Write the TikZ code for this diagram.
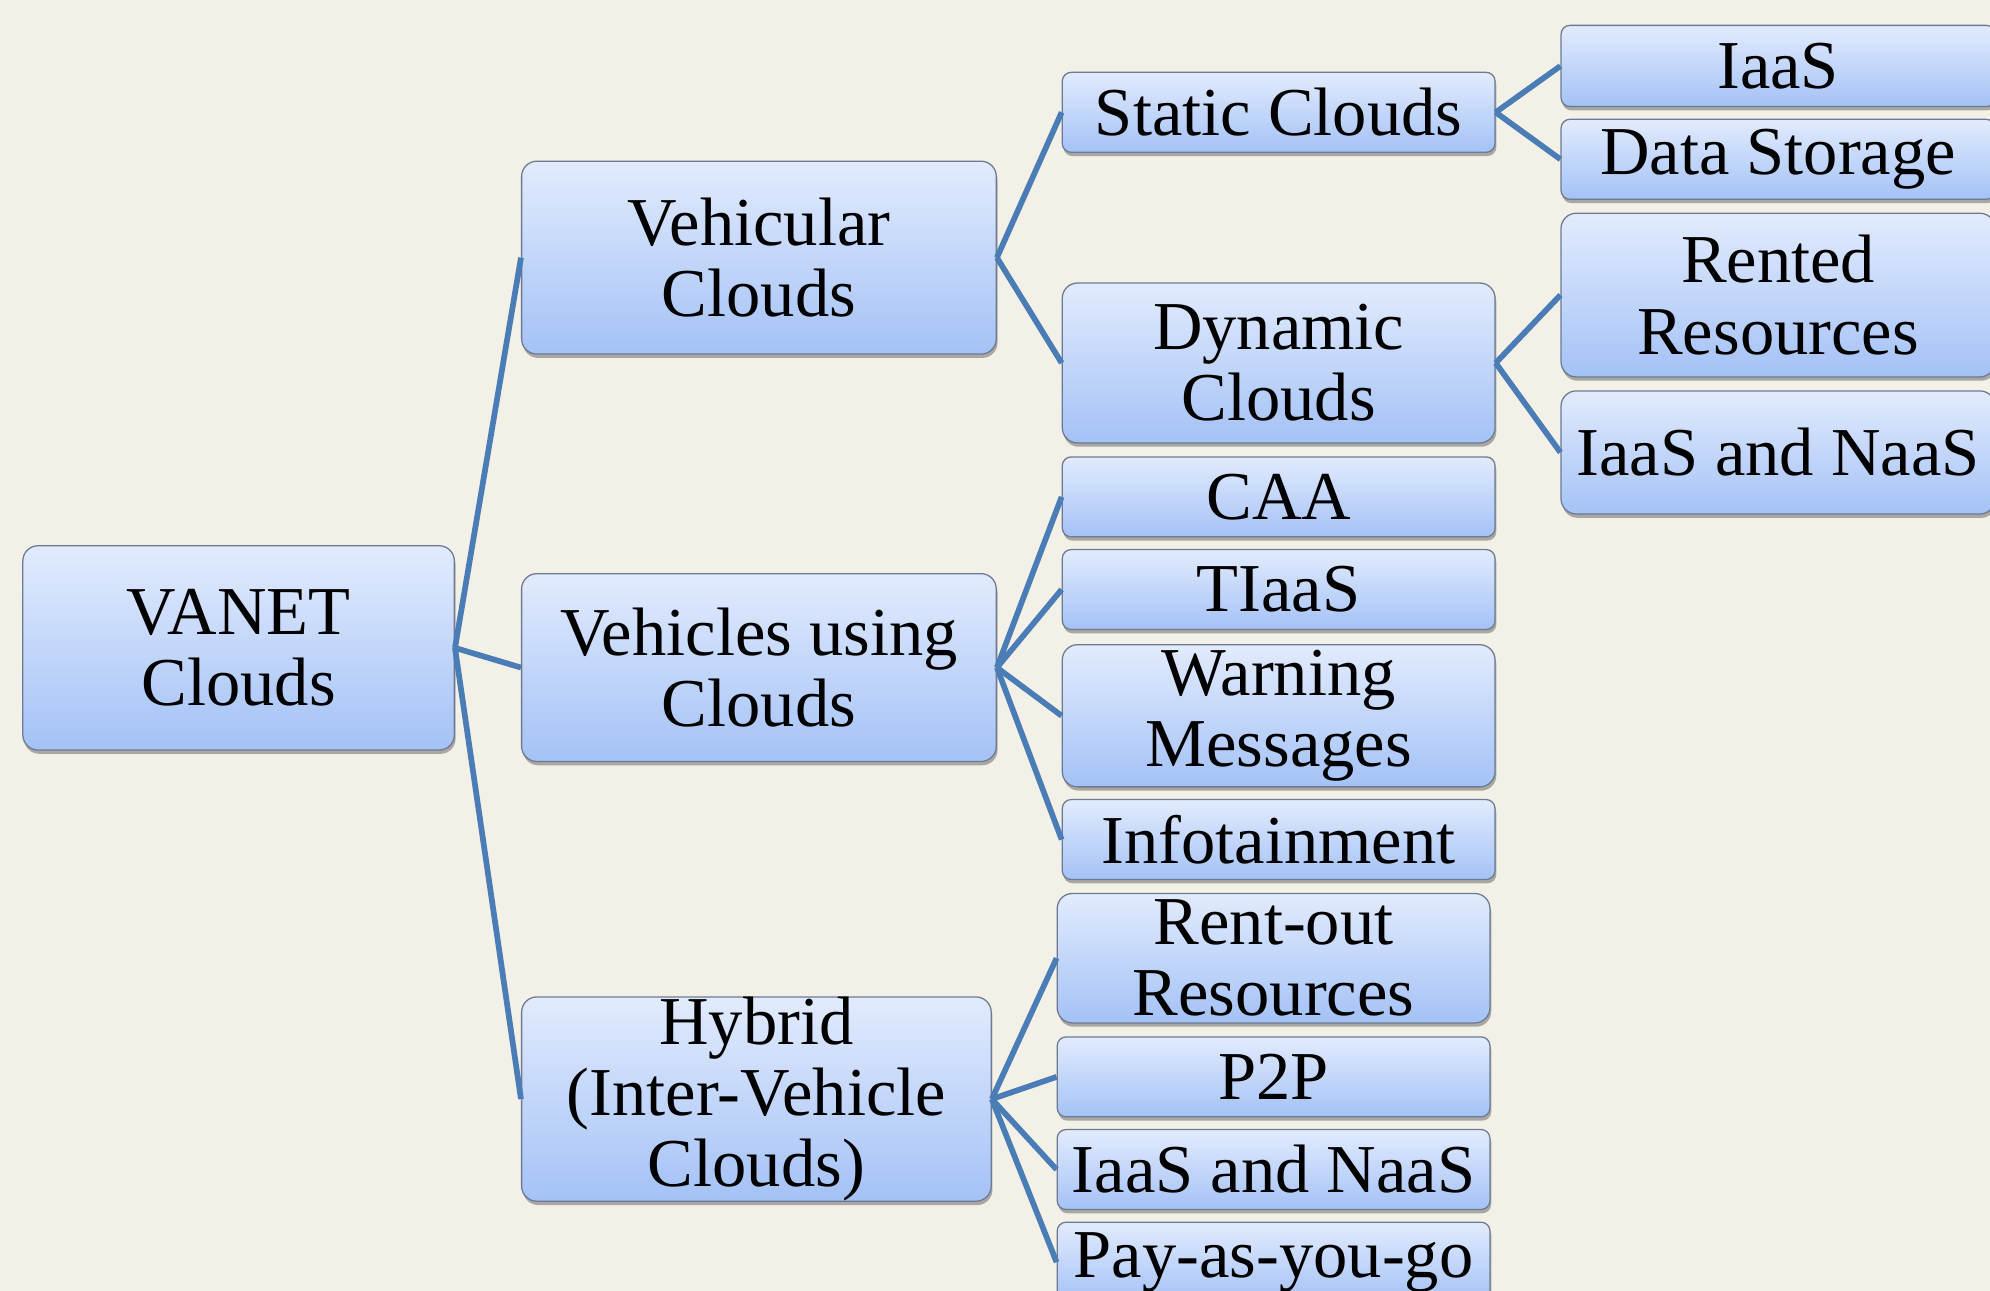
\documentclass[tikz,border=0pt]{standalone}
\usepackage{fontspec}
\setmainfont{Liberation Serif}
\usetikzlibrary{shadows}
\definecolor{bgcream}{HTML}{F3F0E7}
\definecolor{linkblue}{HTML}{4A7DB5}
\definecolor{boxtop}{HTML}{E2EBFD}
\definecolor{boxbot}{HTML}{A4C2F6}
\definecolor{boxline}{HTML}{6C7B93}
\tikzset{
  item/.style={draw=boxline, line width=1pt, top color=boxtop, bottom color=boxbot,
    rounded corners=7pt, inner sep=0pt, align=center,
    font=\fontsize{54}{56}\selectfont,
    drop shadow={shadow xshift=1pt, shadow yshift=-3pt, opacity=0.3, fill=black}},
  bigitem/.style={item, rounded corners=12pt},
  link/.style={draw=linkblue, line width=4.5pt},
}
\begin{document}
\begin{tikzpicture}[x=1pt,y=-1pt]
\fill[bgcream] (0,0) rectangle (1568,1017);
\useasboundingbox (0,0) rectangle (1568,1017);
\clip (0,0) rectangle (1568,1017);

% root
\node[bigitem, minimum width=340pt, minimum height=161pt] (vanet) at (188,510.5) {VANET\\Clouds};

% first level
\node[bigitem, minimum width=374pt, minimum height=152pt] (vc) at (598,203) {Vehicular\\Clouds};
\node[bigitem, minimum width=374pt, minimum height=148pt] (vu) at (598,526) {Vehicles using\\Clouds};
\node[bigitem, minimum width=370pt, minimum height=160pt] (hy) at (596,866) {Hybrid\\(Inter-Vehicle\\Clouds)};

% second level
\node[item, minimum width=341pt, minimum height=63pt] (st) at (1007.5,88.5) {Static Clouds};
\node[bigitem, minimum width=341pt, minimum height=126pt] (dy) at (1007.5,286) {Dynamic\\Clouds};
\node[item, minimum width=341pt, minimum height=63pt] (caa) at (1007.5,391.5) {CAA};
\node[item, minimum width=341pt, minimum height=63pt] (tiaas) at (1007.5,464.5) {TIaaS};
\node[bigitem, minimum width=341pt, minimum height=112pt] (warn) at (1007.5,564) {Warning\\Messages};
\node[item, minimum width=341pt, minimum height=63pt] (info) at (1007.5,661.5) {Infotainment};
\node[bigitem, minimum width=341pt, minimum height=102pt] (rent) at (1003.5,755) {Rent-out\\Resources};
\node[item, minimum width=341pt, minimum height=63pt] (p2p) at (1003.5,848.5) {P2P};
\node[item, minimum width=341pt, minimum height=63pt] (hin) at (1003.5,921.5) {IaaS and NaaS};
\node[item, minimum width=341pt, minimum height=63pt] (pay) at (1003.5,994.5) {Pay-as-you-go};

% third level
\node[item, minimum width=342pt, minimum height=64pt] (iaas) at (1401,52) {IaaS};
\node[item, minimum width=342pt, minimum height=63pt] (ds) at (1401,125.5) {Data Storage};
\node[bigitem, minimum width=342pt, minimum height=129pt] (rr) at (1401,232.5) {Rented\\Resources};
\node[bigitem, minimum width=342pt, minimum height=97pt] (din) at (1401,356.5) {IaaS and NaaS};

% connectors
\foreach \c in {vc,vu,hy} \draw[link] (vanet.east) -- (\c.west);
\foreach \c in {st,dy} \draw[link] (vc.east) -- (\c.west);
\foreach \c in {caa,tiaas,warn,info} \draw[link] (vu.east) -- (\c.west);
\foreach \c in {rent,p2p,hin,pay} \draw[link] (hy.east) -- (\c.west);
\foreach \c in {iaas,ds} \draw[link] (st.east) -- (\c.west);
\foreach \c in {rr,din} \draw[link] (dy.east) -- (\c.west);
\end{tikzpicture}
\end{document}
